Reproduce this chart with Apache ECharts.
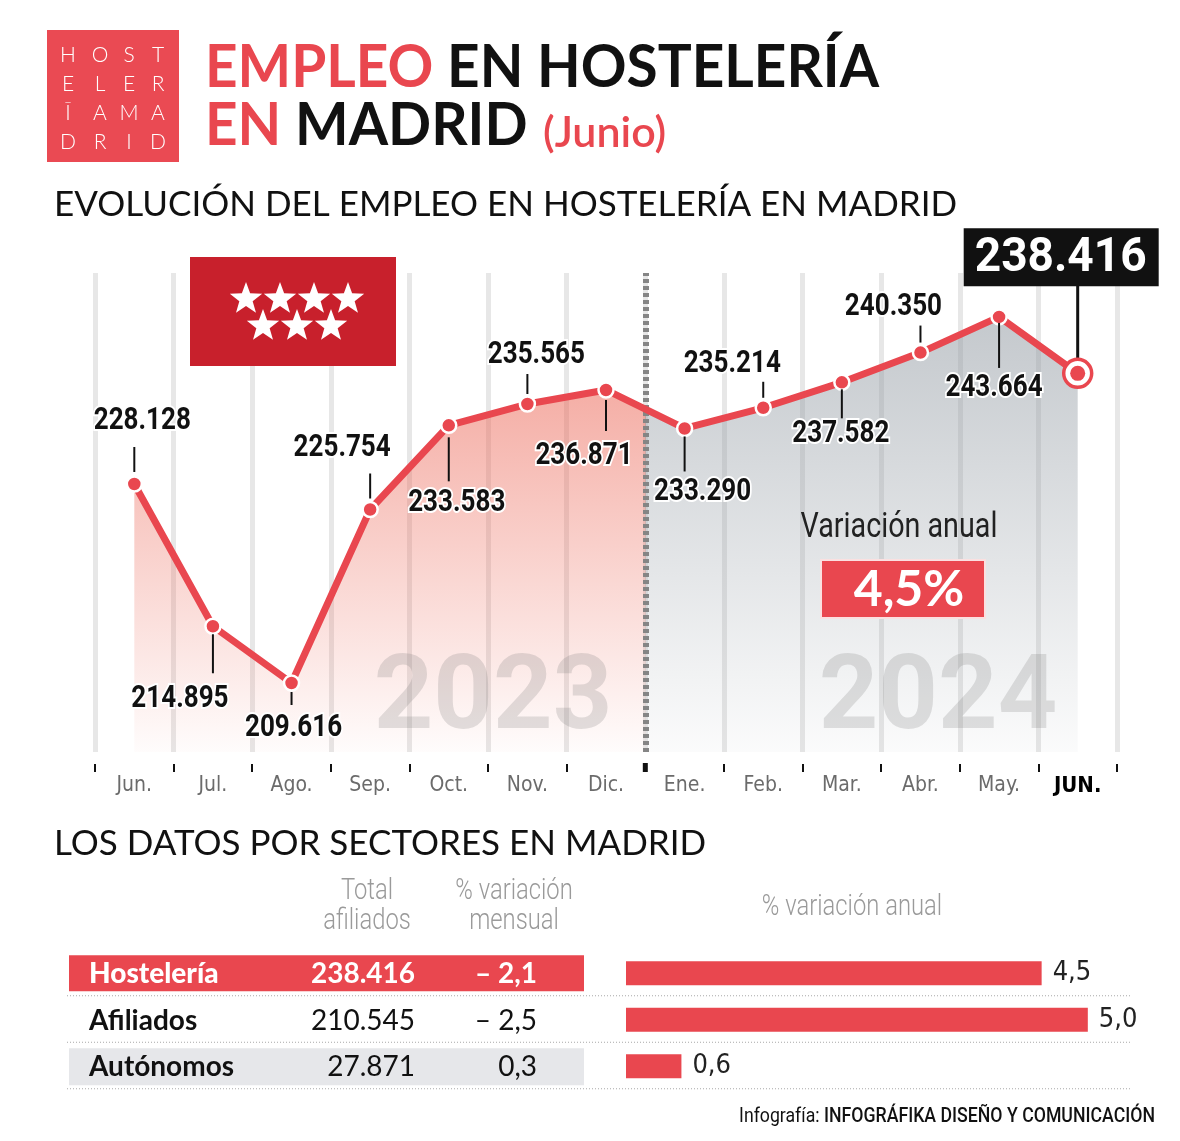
<!DOCTYPE html>
<html><head><meta charset="utf-8">
<script src="https://cdn.jsdelivr.net/npm/echarts@6/dist/echarts.min.js"></script>
<style>html,body{margin:0;padding:0;background:#fff}#c{width:1180px;height:1141px}</style>
</head><body><div id="c"></div>
<script>
// ---------- DATA ----------
const months = ['Jun.','Jul.','Ago.','Sep.','Oct.','Nov.','Dic.','Ene.','Feb.','Mar.','Abr.','May.','JUN.'];
const employment = [228128,214895,209616,225754,233583,235565,236871,233290,235214,237582,240350,243664,238416];
const months2023Count = 7;
const yearLabels = ['2023','2024'];
const sectors = ['Hostelería','Afiliados','Autónomos'];
const totalAffiliates = [238416,210545,27871];
const monthlyChange = [-2.1,-2.5,0.3];
const annualChange = [4.5,5.0,0.6];
const headlineAnnualChange = 4.5;

// ---------- HELPERS ----------
const fmtInt = n => String(n).replace(/\B(?=(\d{3})+(?!\d))/g,'.');
const fmtDec = v => (v < 0 ? '– ' : '') + Math.abs(v).toFixed(1).replace('.',',');
const RED = '#e9474f';
const FLAG = '#c8202c';
const COND = "'Liberation Sans Narrow','DejaVu Sans Condensed',Roboto,sans-serif";

// layout
const L = 95, R = 63, TOP = 273, BOTTOM_Y = 752;
const W = 1180 - L - R;
const band = W / months.length;
const splitX = L + band * months2023Count;
const Y_MIN = 203200, Y_MAX = 247750;
const last = employment.length - 1;

// label placement per point: [leader start, leader end, text center (dy), text dx]
const labelPlace = [
  [-12,-37,-63, 8],
  [  8, 47, 73,-33],
  [  9, 22, 45, 2],
  [-11,-36,-61,-28],
  [ 12, 56, 78, 8],
  [-10,-30,-49, 9],
  [ 10, 41, 66,-22],
  [  8, 43, 64, 18],
  [-10,-26,-44,-31],
  [  7, 36, 52, -1],
  [-10,-27,-45,-27],
  [  6, 51, 71, -5],
  [0,0,0,0]
];

const chart = echarts.init(document.getElementById('c'));
const gridBottom = 1141 - BOTTOM_Y;

const option = {
  backgroundColor: '#fff',
  animation: false,
  grid: [
    {left: L, right: R, top: TOP, bottom: gridBottom},
    {left: L, width: band * months2023Count, top: TOP, bottom: gridBottom},
    {left: splitX, right: R, top: TOP, bottom: gridBottom},
    {left: 626, right: 46, top: 950, height: 139.5}
  ],
  xAxis: [
    {type: 'category', gridIndex: 0, data: months, boundaryGap: true, offset: 12,
     axisLine: {show: false},
     axisTick: {show: true, length: 8, lineStyle: {color: '#111', width: 2}},
     axisLabel: {interval: 0, margin: 11, color: '#6b6b6b', fontSize: 21, fontFamily: COND,
       formatter: (v, i) => i === last ? '{b|' + v + '}' : v,
       rich: {b: {fontWeight: 'bold', color: '#000', fontSize: 22, fontFamily: COND}}},
     splitLine: {show: true, interval: 0, lineStyle: {color: '#e7e7e7', width: 5}}},
    {type: 'value', gridIndex: 1, min: -0.5, max: months2023Count - 0.5, show: false},
    {type: 'value', gridIndex: 2, min: months2023Count - 0.5, max: months.length - 0.5, show: false},
    {type: 'value', gridIndex: 3, min: 0, max: 5.5, show: false}
  ],
  yAxis: [
    {type: 'value', gridIndex: 0, min: Y_MIN, max: Y_MAX, show: false},
    {type: 'value', gridIndex: 1, min: Y_MIN, max: Y_MAX, show: false},
    {type: 'value', gridIndex: 2, min: Y_MIN, max: Y_MAX, show: false},
    {type: 'category', gridIndex: 3, data: sectors, inverse: true, show: false}
  ],
  series: [
    {type: 'line', xAxisIndex: 1, yAxisIndex: 1, data: employment.map((v, i) => [i, v]),
     symbol: 'none', lineStyle: {width: 0}, silent: true, z: 1,
     areaStyle: {opacity: 1, color: {type: 'linear', x: 0, y: 0, x2: 0, y2: 1,
       colorStops: [{offset: 0, color: 'rgba(236,104,88,0.64)'}, {offset: 1, color: 'rgba(236,104,88,0.02)'}]}}},
    {type: 'line', xAxisIndex: 2, yAxisIndex: 2, data: employment.map((v, i) => [i, v]),
     symbol: 'none', lineStyle: {width: 0}, silent: true, z: 1,
     areaStyle: {opacity: 1, color: {type: 'linear', x: 0, y: 0, x2: 0, y2: 1,
       colorStops: [{offset: 0, color: 'rgba(148,156,164,0.55)'}, {offset: 1, color: 'rgba(148,156,164,0.04)'}]}},
     markLine: {silent: true, symbol: 'none', label: {show: false}, z: 2,
       lineStyle: {color: '#858585', width: 6, type: [4, 3]},
       data: [{xAxis: months2023Count - 0.5}]}},
    {type: 'line', xAxisIndex: 0, yAxisIndex: 0, z: 3,
     data: employment.map((v, i) => i === last ? {value: v, symbol: 'none'} : v),
     symbol: 'circle', symbolSize: 15,
     itemStyle: {color: RED, borderColor: '#fff', borderWidth: 2.5},
     lineStyle: {color: RED, width: 7}},
    {type: 'custom', xAxisIndex: 0, yAxisIndex: 0, z: 4, clip: false,
     data: employment.map((v, i) => [i, v]),
     renderItem: (params, api) => {
       const i = api.value(0), v = api.value(1);
       const p = api.coord([i, v]);
       const t = fmtInt(v);
       if (i === last) {
         return {type: 'group', children: [
           {type: 'line', shape: {x1: p[0], y1: p[1] - 14, x2: p[0], y2: p[1] - 88}, style: {stroke: '#111', lineWidth: 3}},
           {type: 'rect', shape: {x: p[0] - 114, y: p[1] - 145, width: 195, height: 58}, style: {fill: '#111'}},
           {type: 'text', x: p[0] - 17, y: p[1] - 115, scaleX: 0.94,
            style: {text: t, font: 'bold 49px Roboto', fill: '#fff', align: 'center', verticalAlign: 'middle'}},
           {type: 'circle', shape: {cx: p[0], cy: p[1], r: 14}, style: {fill: '#fff', stroke: RED, lineWidth: 3.5}},
           {type: 'circle', shape: {cx: p[0], cy: p[1], r: 7.5}, style: {fill: RED}}
         ]};
       }
       const c = labelPlace[i];
       return {type: 'group', children: [
         {type: 'line', shape: {x1: p[0], y1: p[1] + c[0], x2: p[0], y2: p[1] + c[1]}, style: {stroke: '#111', lineWidth: 2}},
         {type: 'text', x: p[0] + c[3], y: p[1] + c[2], scaleX: 0.84,
          style: {text: t, font: 'bold 31px Roboto', fill: '#111', align: 'center', verticalAlign: 'middle',
                  stroke: '#fff', lineWidth: 4}}
       ]};
     }},
    {type: 'bar', xAxisIndex: 3, yAxisIndex: 3, data: annualChange, barWidth: 24,
     itemStyle: {color: RED},
     label: {show: true, position: 'right', distance: 11, formatter: p => fmtDec(p.value),
       color: '#222', fontSize: 27, fontFamily: COND}}
  ]
};
chart.setOption(option);

// ---------- decorations / texts ----------
function star(cx, cy, Ro, Ri) {
  const pts = [];
  for (let k = 0; k < 10; k++) {
    const a = -Math.PI / 2 + k * Math.PI / 5, r = k % 2 ? Ri : Ro;
    pts.push([cx + r * Math.cos(a), cy + r * Math.sin(a)]);
  }
  return pts;
}
const g = [];
// logo
g.push({type: 'rect', shape: {x: 47, y: 30, width: 132, height: 132}, style: {fill: '#ea4a53'}, z: 10});
const logoRows = [['H','O','S','T'],['E','L','E','R'],['Ī','A','M','A'],['D','R','I','D']];
const logoCols = [68, 100, 129, 158], logoRowsY = [55, 84, 113, 142];
logoRows.forEach((row, r) => row.forEach((ch, c) => g.push({type: 'text', x: logoCols[c], y: logoRowsY[r], z: 11,
  style: {text: ch, font: '300 21px Lato', fill: '#fff', align: 'center', verticalAlign: 'middle'}})));
// title
g.push({type: 'text', x: 205, y: 68, scaleX: 0.945, z: 10, style: {text: '{r|EMPLEO }{k|EN HOSTELERÍA}', verticalAlign: 'middle',
  rich: {r: {fill: RED, font: 'bold 60px Lato'}, k: {fill: '#111', font: 'bold 60px Lato'}}}});
g.push({type: 'text', x: 205, y: 126, scaleX: 0.945, z: 10, style: {text: '{r|EN }{k|MADRID}', verticalAlign: 'middle',
  rich: {r: {fill: RED, font: 'bold 60px Lato'}, k: {fill: '#111', font: 'bold 60px Lato'}}}});
g.push({type: 'text', x: 543, y: 133, z: 10, style: {text: '(Junio)', font: '600 43px Lato', fill: RED, verticalAlign: 'middle'}});
g.push({type: 'text', x: 54, y: 205, z: 10, style: {text: 'EVOLUCIÓN DEL EMPLEO EN HOSTELERÍA EN MADRID', font: '35px Lato', fill: '#111', verticalAlign: 'middle'}});
g.push({type: 'text', x: 54, y: 844, z: 10, style: {text: 'LOS DATOS POR SECTORES EN MADRID', font: '35px Lato', fill: '#111', verticalAlign: 'middle'}});
// flag
g.push({type: 'rect', shape: {x: 190, y: 257, width: 206, height: 109}, style: {fill: FLAG}, z: 6});
[[246,299],[280,299],[314,299],[348,299],[263,326],[297,326],[331,326]].forEach(s =>
  g.push({type: 'polygon', shape: {points: star(s[0], s[1], 17, 7)}, style: {fill: '#fff'}, z: 7}));
// year watermarks
const yearCenters = [[493, 702], [938, 702]];
yearLabels.forEach((y, k) => g.push({type: 'text', x: yearCenters[k][0], y: yearCenters[k][1], z: 2,
  style: {text: y, font: 'bold 104px Roboto', fill: 'rgba(110,110,110,0.2)', align: 'center', verticalAlign: 'middle'}}));
// divider tick
g.push({type: 'line', shape: {x1: splitX, y1: 763, x2: splitX, y2: 772}, style: {stroke: '#111', lineWidth: 5}, z: 6});
// annual variation box
g.push({type: 'text', x: 899, y: 528, scaleX: 0.82, z: 6, style: {text: 'Variación anual', font: '35px Roboto', fill: '#222', align: 'center', verticalAlign: 'middle'}});
g.push({type: 'rect', shape: {x: 821, y: 560, width: 164, height: 58}, style: {fill: RED, stroke: '#fbe0e0', lineWidth: 2}, z: 6});
g.push({type: 'text', x: 909, y: 590, z: 7, style: {text: fmtDec(headlineAnnualChange) + '%', font: 'bold 50px Lato', fill: '#fff', align: 'center', verticalAlign: 'middle'}});
// table headers
const hdr = (t, x, y) => g.push({type: 'text', x, y, scaleX: 0.82, z: 6, style: {text: t, font: '300 29px Roboto', fill: '#9a9a9a', align: 'center', verticalAlign: 'middle'}});
hdr('Total', 367, 892); hdr('afiliados', 367, 922);
hdr('% variación', 514, 892); hdr('mensual', 514, 922);
hdr('% variación anual', 852, 908);
// table rows
const rowY = sectors.map(s => chart.convertToPixel({yAxisIndex: 3}, s));
sectors.forEach((s, i) => {
  const y = rowY[i];
  if (i === 0) g.push({type: 'rect', shape: {x: 69, y: y - 18, width: 515, height: 36}, style: {fill: RED}, z: 5});
  if (i === 2) g.push({type: 'rect', shape: {x: 69, y: y - 18, width: 515, height: 37}, style: {fill: '#e6e7ea'}, z: 5});
  const col = i === 0 ? '#fff' : '#111';
  g.push({type: 'text', x: 89, y: y + 1, z: 6, style: {text: s, font: (i === 0 ? '900' : 'bold') + ' 28px Lato', fill: col, verticalAlign: 'middle'}});
  g.push({type: 'text', x: 415, y: y + 1, z: 6, style: {text: fmtInt(totalAffiliates[i]), font: (i === 0 ? 'bold' : 'normal') + ' 28px Lato', fill: col, align: 'right', verticalAlign: 'middle'}});
  g.push({type: 'text', x: 537, y: y + 1, z: 6, style: {text: fmtDec(monthlyChange[i]), font: (i === 0 ? 'bold' : 'normal') + ' 28px Lato', fill: col, align: 'right', verticalAlign: 'middle'}});
  g.push({type: 'line', shape: {x1: 67, y1: y + 22.5, x2: 1130, y2: y + 22.5}, style: {stroke: '#a8a8a8', lineWidth: 1, lineDash: [1, 2]}, z: 5});
});
// footer
g.push({type: 'text', x: 1155, y: 1117, scaleX: 0.885, z: 6, style: {text: '{a|Infografía: }{b|INFOGRÁFIKA DISEÑO Y COMUNICACIÓN}', align: 'right', verticalAlign: 'middle',
  rich: {a: {font: '20px Roboto', fill: '#111'}, b: {font: '500 20px Roboto', fill: '#111'}}}});
chart.setOption({graphic: g});
</script></body></html>
